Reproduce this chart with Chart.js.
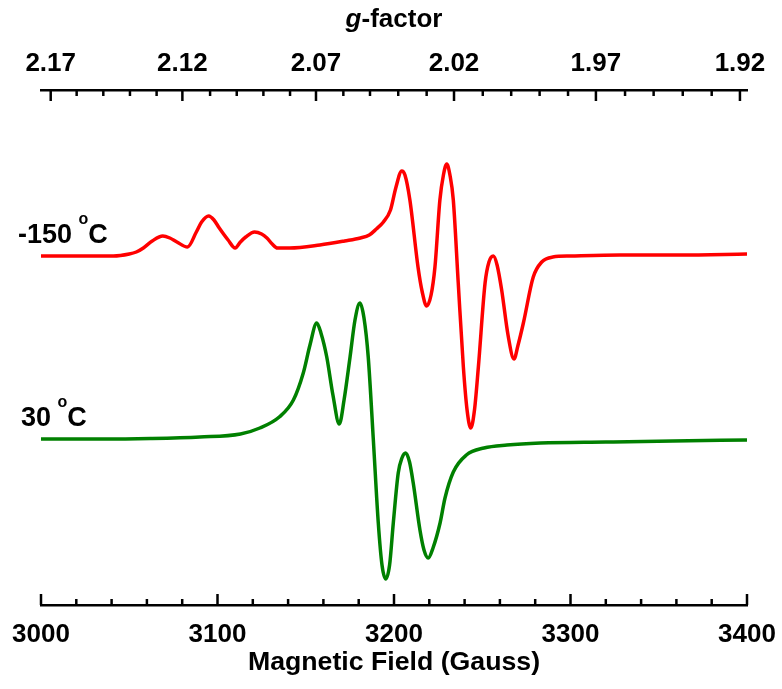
<!DOCTYPE html>
<html>
<head>
<meta charset="utf-8">
<script src="https://cdn.jsdelivr.net/npm/chart.js@4.4.1/dist/chart.umd.min.js"></script>
<style>
  html, body { margin: 0; padding: 0; background: #fff; }
  #wrap { width: 782px; height: 689px; position: relative; }
</style>
</head>
<body>
<div id="wrap"><canvas id="epr"></canvas></div>
<script>
// EPR derivative spectra, field in Gauss, intensity in arbitrary units
const fieldCold = [3000, 3022, 3041, 3050, 3054, 3058, 3063, 3069, 3073, 3077, 3083, 3088, 3091, 3095, 3098, 3101, 3106,
  3110, 3113, 3116, 3121, 3125, 3128, 3131, 3134, 3141, 3158, 3172, 3181, 3186, 3190, 3194, 3198, 3201, 3204.4, 3206.2,
  3209, 3213.6, 3216, 3218.5, 3221, 3223.2, 3226, 3228, 3229.9, 3231.7, 3233.6, 3236.4, 3239.3, 3241.4, 3243.5, 3245.6,
  3247.8, 3251.6, 3253.8, 3256.3, 3258.4, 3261, 3264.6, 3268, 3270.3, 3273.3, 3278.9, 3283.7, 3290, 3300, 3328, 3362, 3400];
const signalCold = [-1, -1, -1, 1, 3, 7, 14, 19, 17, 13, 8, 23, 33, 39, 35, 27, 15,
  7, 13, 18, 23, 21, 17, 11, 7, 7, 10, 14, 17, 20, 26, 33, 45, 67, 84, 80,
  55, -12, -37, -51, -40, -12, 55, 80, 91, 80, 55, -28, -112, -155, -173, -155,
  -112, -28, -7, -1, -10, -35, -80, -104, -90, -68, -22, -7, -2, -1, 0, 0, 1];

const fieldWarm = [3000, 3033, 3062, 3090, 3113, 3124, 3135, 3143, 3148.6, 3152.4, 3156.2, 3158.6, 3161.9, 3165.4, 3169,
  3171.7, 3175.1, 3177.9, 3180.7, 3183, 3185.4, 3188.3, 3191.1, 3193.2, 3195.3, 3197.5, 3199.6, 3202.4, 3204.5, 3206.6,
  3208.8, 3210.9, 3214.7, 3217, 3219.4, 3222.1, 3226.1, 3228.9, 3233.6, 3241, 3251, 3264, 3283, 3320, 3358, 3400];
const signalWarm = [1, 1, 1.5, 3, 6, 12, 23, 40, 67, 95, 117, 107, 83, 45, 16,
  40, 83, 120, 137, 122, 83, 0, -83, -125, -139, -125, -83, -33, -18, -13,
  -22, -43, -90, -110, -118, -108, -83, -58, -32, -15, -8, -5, -3, -2, -1, 0];

const tempLabels = ["-150", "30"];
const fieldMin = 3000;
const fieldMax = 3400;

// g-factor scale along the top, placed at the field where each tick sits in the figure
const gLabels = ["2.17", "2.12", "2.07", "2.02", "1.97", "1.92"];
const gMajorField = [3005.5, 3080.1, 3155.8, 3234.0, 3314.4, 3396.0];
const gMinorField = [3020.2, 3035.3, 3050.4, 3065.5, 3095.8, 3110.9, 3126.0, 3141.1, 3171.3, 3186.4, 3202.4, 3218.5,
  3250.3, 3266.4, 3282.5, 3298.6, 3330.9, 3347.1, 3363.6, 3380.0];

const coldOffset = 350;
const warmOffset = 165;

const FONT = '"Liberation Sans", Arial, sans-serif';

function points(fields, values, offset) {
  return fields.map((b, i) => ({ x: b, y: values[i] + offset }));
}

// labels may hang past the plot edges, keep the plot at the layout padding
function fixBox(height) {
  return s => {
    s.height = height;
    s.paddingLeft = 0;
    s.paddingRight = 0;
  };
}

// ticks pointing into the plot + the free text (g-factor title, temperatures)
const decorations = {
  id: 'decorations',
  afterDraw(chart) {
    const ctx = chart.ctx;
    const xs = chart.scales.x;
    const gs = chart.scales.g;
    const ys = chart.scales.y;
    ctx.save();
    ctx.strokeStyle = '#000';
    ctx.lineWidth = 2.5;
    function tick(px, y0, len) {
      ctx.beginPath();
      ctx.moveTo(px, y0);
      ctx.lineTo(px, y0 + len);
      ctx.stroke();
    }
    xs.ticks.forEach(t => {
      tick(xs.getPixelForValue(t.value), xs.top, t.value % 100 === 0 ? -11 : -6);
    });
    gMajorField.forEach(v => tick(gs.getPixelForValue(v), gs.bottom, 11));
    gMinorField.forEach(v => tick(gs.getPixelForValue(v), gs.bottom, 6));

    // top title: italic g
    ctx.fillStyle = '#000';
    ctx.textBaseline = 'middle';
    const f1 = 'italic bold 26px ' + FONT;
    const f2 = 'bold 26px ' + FONT;
    ctx.font = f1;
    const w1 = ctx.measureText('g').width;
    ctx.font = f2;
    const w2 = ctx.measureText('-factor').width;
    const cx = (chart.chartArea.left + chart.chartArea.right) / 2;
    const ty = gs.top + 20;
    ctx.font = f1;
    ctx.fillText('g', cx - (w1 + w2) / 2, ty);
    ctx.font = f2;
    ctx.fillText('-factor', cx - (w1 + w2) / 2 + w1, ty);

    // temperature labels
    function temp(label, x, y) {
      ctx.textBaseline = 'alphabetic';
      ctx.font = 'bold 27px ' + FONT;
      ctx.fillText(label + ' ', x, y);
      let w = ctx.measureText(label + ' ').width;
      ctx.font = 'bold 16px ' + FONT;
      ctx.fillText('o', x + w - 1, y - 19);
      w += ctx.measureText('o').width - 1;
      ctx.font = 'bold 27px ' + FONT;
      ctx.fillText('C', x + w, y);
    }
    temp(tempLabels[0], chart.chartArea.left - 23, ys.getPixelForValue(coldOffset) - 12);
    temp(tempLabels[1], chart.chartArea.left - 20, ys.getPixelForValue(warmOffset) - 14);
    ctx.restore();
  }
};

const ctx = document.getElementById('epr').getContext('2d');
new Chart(ctx, {
  type: 'line',
  data: {
    datasets: [
      {
        label: tempLabels[0] + ' °C',
        data: points(fieldCold, signalCold, coldOffset),
        borderColor: 'rgb(255, 0, 0)',
        borderWidth: 3.5,
        pointRadius: 0,
        cubicInterpolationMode: 'monotone',
        xAxisID: 'x'
      },
      {
        label: tempLabels[1] + ' °C',
        data: points(fieldWarm, signalWarm, warmOffset),
        borderColor: 'rgb(0, 128, 0)',
        borderWidth: 3.5,
        pointRadius: 0,
        cubicInterpolationMode: 'monotone',
        xAxisID: 'x'
      }
    ]
  },
  options: {
    responsive: true,
    maintainAspectRatio: false,
    animation: false,
    events: [],
    layout: { padding: { left: 41, right: 35, top: 0, bottom: 0 } },
    plugins: { legend: { display: false }, tooltip: { enabled: false } },
    scales: {
      x: {
        type: 'linear',
        position: 'bottom',
        min: fieldMin,
        max: fieldMax,
        grid: { display: false, drawTicks: false },
        border: { display: true, color: '#000', width: 2.5 },
        afterBuildTicks: s => {
          s.ticks = [];
          for (let v = fieldMin; v <= fieldMax; v += 20) s.ticks.push({ value: v });
        },
        ticks: {
          autoSkip: false,
          maxRotation: 0,
          padding: 14,
          color: '#000',
          font: { family: FONT, size: 26, weight: 'bold' },
          callback: v => (v % 100 === 0 ? String(v) : '')
        },
        title: {
          display: true,
          text: 'Magnetic Field (Gauss)',
          color: '#000',
          font: { family: FONT, size: 26.7, weight: 'bold' },
          padding: { top: 0, bottom: 10 }
        },
        afterFit: fixBox(84)
      },
      g: {
        type: 'linear',
        position: 'top',
        min: fieldMin,
        max: fieldMax,
        grid: { display: false, drawTicks: false },
        border: { display: true, color: '#000', width: 2.5 },
        afterBuildTicks: s => { s.ticks = gMajorField.map(v => ({ value: v })); },
        ticks: {
          autoSkip: false,
          maxRotation: 0,
          padding: 11,
          color: '#000',
          font: { family: FONT, size: 26, weight: 'bold' },
          callback: (v, i) => gLabels[i]
        },
        afterFit: fixBox(90)
      },
      y: {
        display: false,
        min: 0,
        max: 515
      }
    }
  },
  plugins: [decorations]
});
</script>
</body>
</html>
